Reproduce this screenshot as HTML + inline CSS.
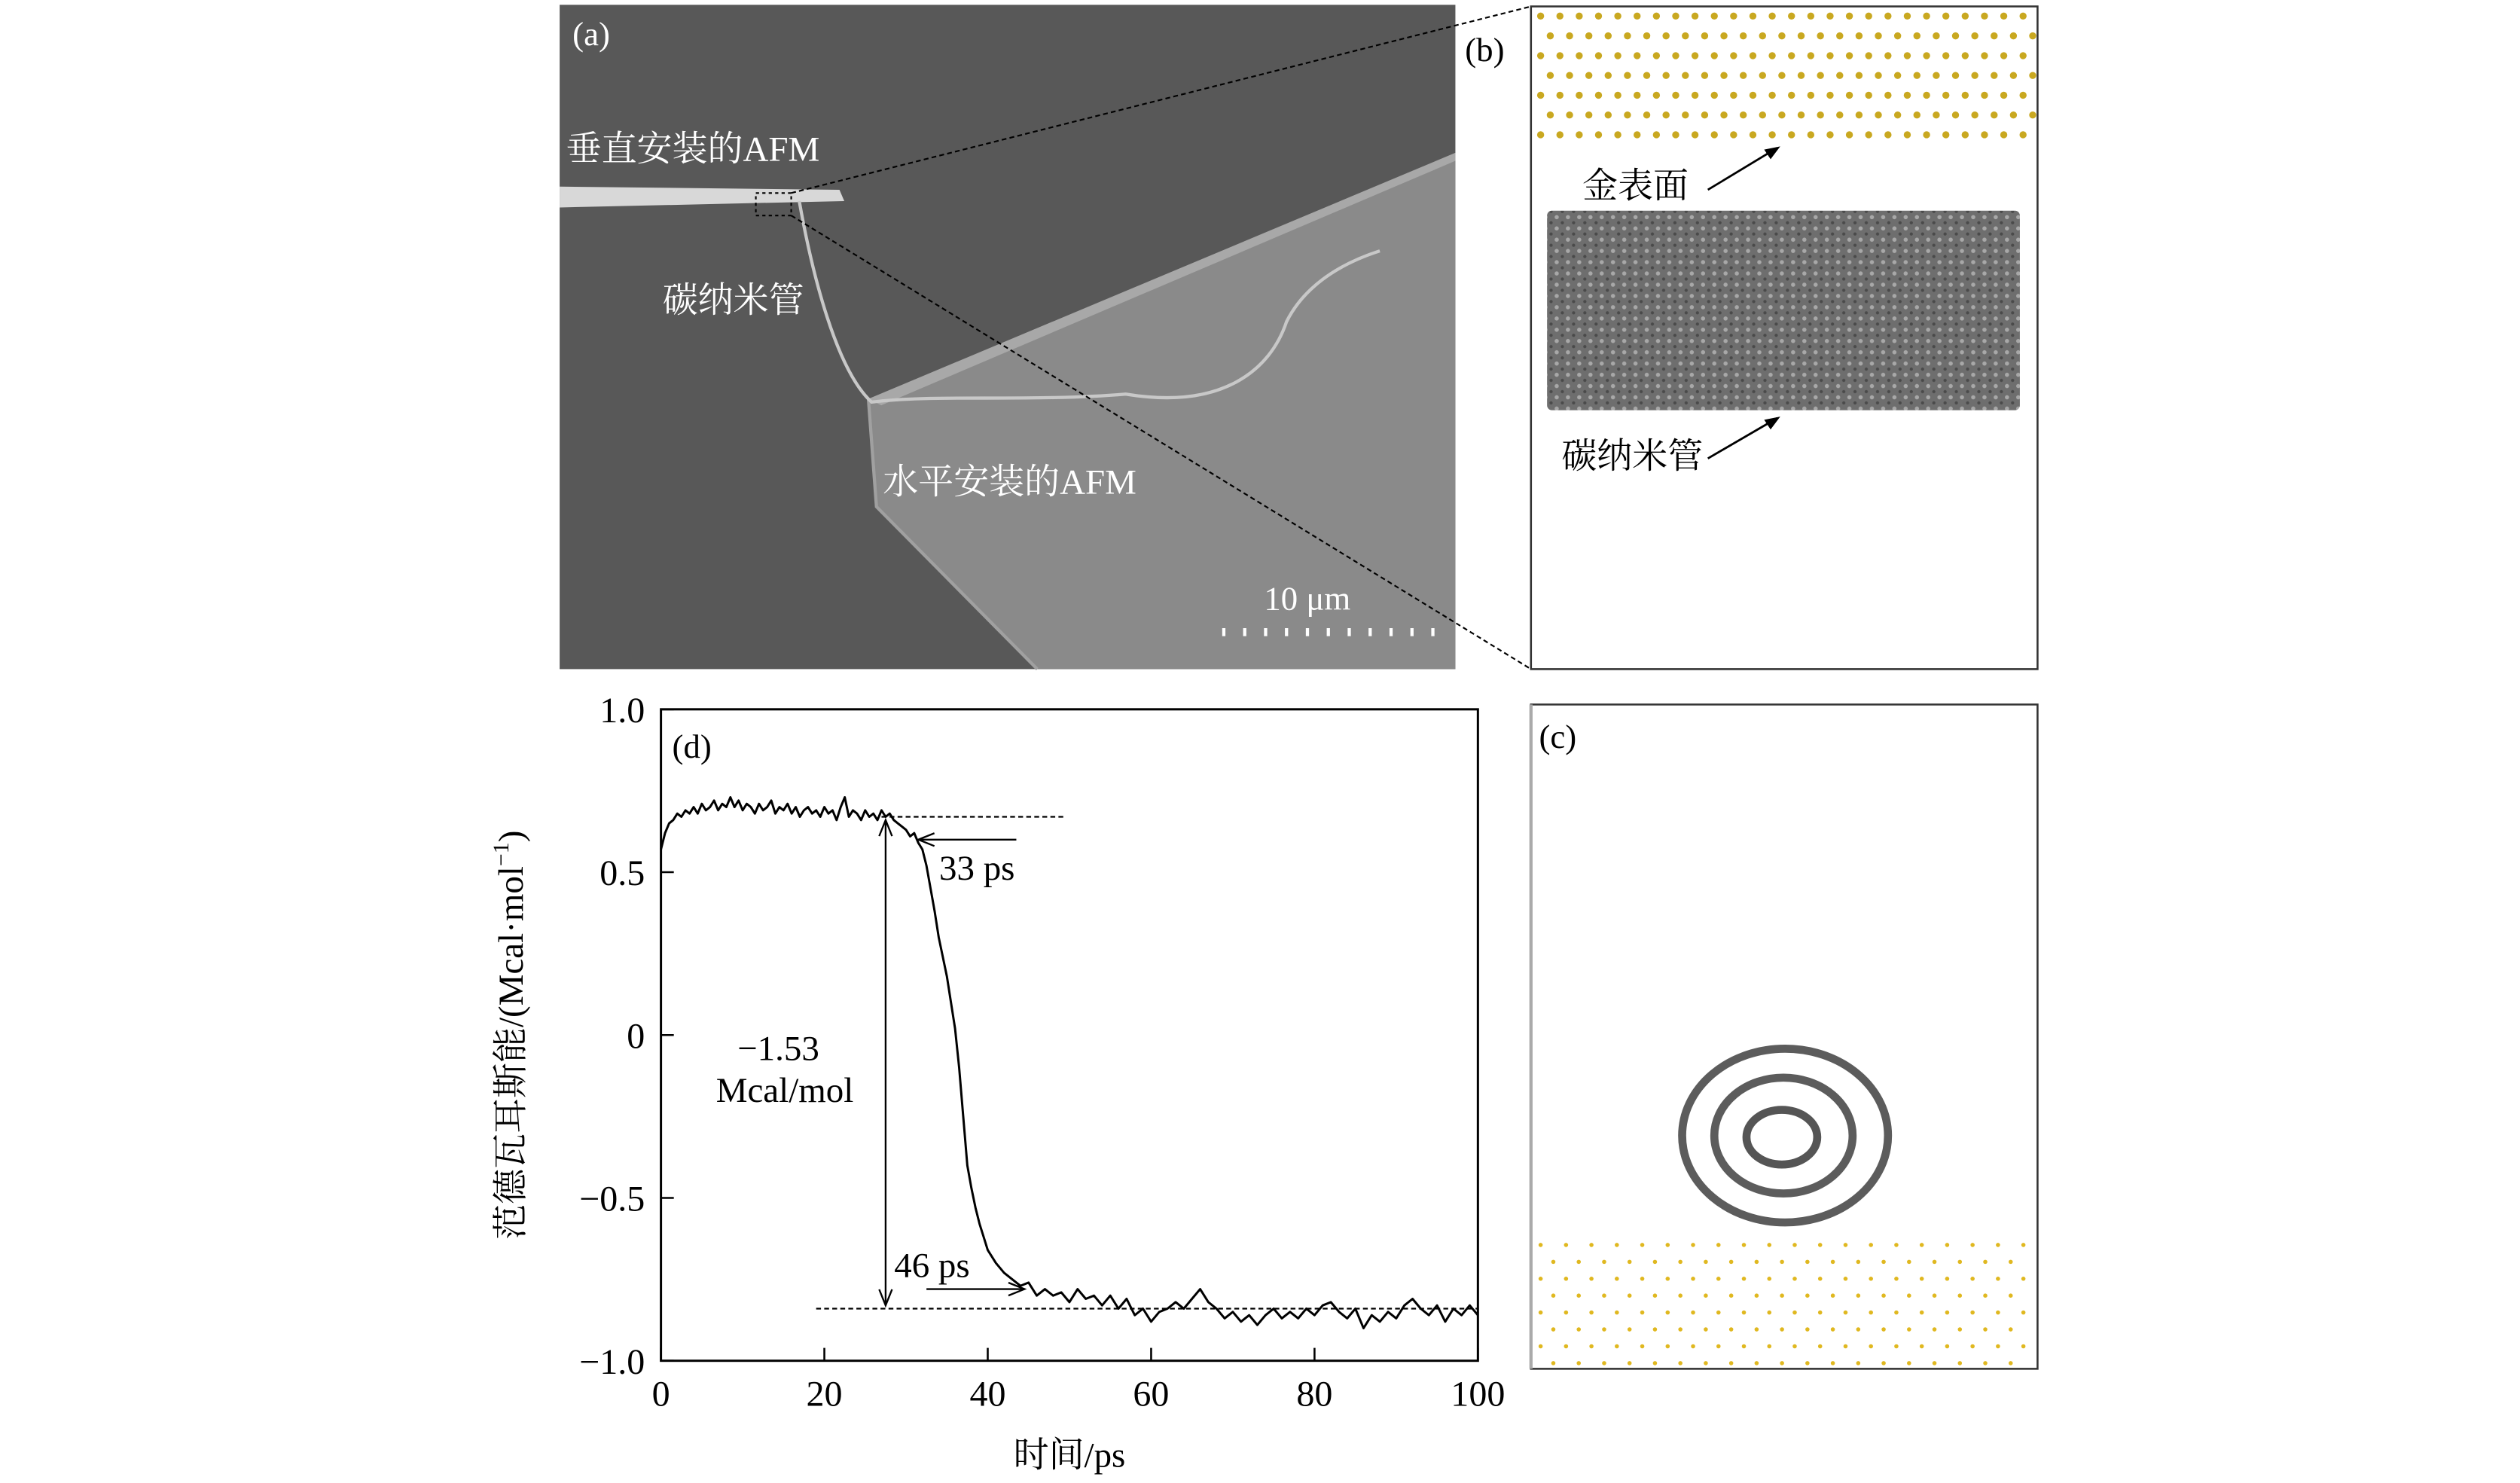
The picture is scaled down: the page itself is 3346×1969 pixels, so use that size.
<!DOCTYPE html>
<html><head><meta charset="utf-8"><style>
html,body{margin:0;padding:0;background:#fff}
svg{display:block}
text{font-family:"Liberation Serif","Noto Serif CJK SC",serif}
</style></head><body>
<svg id="fig" width="3346" height="1969" viewBox="0 0 1567 922" preserveAspectRatio="none" xmlns="http://www.w3.org/2000/svg">
<defs>
<pattern id="tubeTex" width="7" height="7" patternUnits="userSpaceOnUse">
<rect width="7" height="7" fill="#6e6e6e"/><circle cx="2" cy="2" r="1.3" fill="#a8a8a8"/><circle cx="5.5" cy="5.5" r="1" fill="#4a4a4a"/>
</pattern>
</defs>
<g>
<rect x="348" y="3" width="557" height="413" fill="#585858"/>
<polygon points="540,248 905,95 905,416 645,416 545,315" fill="#8a8a8a"/>
<polygon points="540,248 905,95 905,100 548,252" fill="#a8a8a8"/>
<polyline points="540,248 545,315 645,416" fill="none" stroke="#a0a0a0" stroke-width="2"/>
<polygon points="348,116 522,118 525,125 348,129" fill="#d8d8d8"/>
<path d="M497,125 C505,170 520,230 542,250 C580,245 640,250 700,245 C760,255 790,230 800,200 C810,180 830,165 858,156" fill="none" stroke="#c8c8c8" stroke-width="2"/>
<rect x="470" y="120" width="22" height="14" fill="none" stroke="#000" stroke-width="1" stroke-dasharray="2,2"/>
<text x="356" y="28" font-size="21" fill="#fff">(a)</text>
<text x="352" y="100" font-size="22" fill="#fff">垂直安装的AFM</text>
<text x="412" y="194" font-size="22" fill="#fff">碳纳米管</text>
<text x="549" y="307" font-size="22" fill="#fff">水平安装的AFM</text>
<text x="786" y="379" font-size="21" fill="#fff">10 μm</text>
<line x1="760" y1="393" x2="893" y2="393" stroke="#fff" stroke-width="5" stroke-dasharray="2,11"/>
</g>
<line x1="492" y1="120" x2="952" y2="4" stroke="#000" stroke-width="1" stroke-dasharray="3,2"/>
<line x1="492" y1="134" x2="952" y2="416" stroke="#000" stroke-width="1" stroke-dasharray="3,2"/>
<g>
<rect x="952" y="4" width="315" height="412" fill="#fff" stroke="#333" stroke-width="1.2"/>
<g id="bdots"></g>
<rect x="962" y="131" width="294" height="124" fill="url(#tubeTex)" rx="3"/>
<text x="911" y="38" font-size="21">(b)</text>
<text x="984" y="123" font-size="22">金表面</text>
<line x1="1062" y1="118" x2="1105" y2="92" stroke="#000" stroke-width="1.3"/>
<polygon points="1107,91 1097,93 1101,99" fill="#000"/>
<text x="971" y="291" font-size="22">碳纳米管</text>
<line x1="1062" y1="285" x2="1105" y2="260" stroke="#000" stroke-width="1.3"/>
<polygon points="1107,259 1097,261 1101,267" fill="#000"/>
</g>
<g>
<rect x="952" y="438" width="315" height="413" fill="#fff" stroke="#333" stroke-width="1.2"/>
<line x1="952" y1="438" x2="952" y2="851" stroke="#aaa" stroke-width="2"/>
<g id="cdots"></g>
<text x="957" y="465" font-size="21">(c)</text>
<ellipse cx="1110" cy="706" rx="64" ry="54" fill="none" stroke="#5c5c5c" stroke-width="5"/>
<ellipse cx="1109" cy="706" rx="43" ry="36" fill="none" stroke="#5c5c5c" stroke-width="5"/>
<ellipse cx="1108" cy="707" rx="22" ry="17" fill="none" stroke="#555" stroke-width="5"/>
</g>
<g id="chart"></g>
</svg>
<script>
const times=[0,0.5,1,1.5,2,2.5,3,3.5,4,4.5,5,5.5,6,6.5,7,7.5,8,8.5,9,9.5,10,10.5,11,11.5,12,12.5,13,13.5,14,14.5,15,15.5,16,16.5,17,17.5,18,18.5,19,19.5,20,20.5,21,21.5,22,22.5,23,23.5,24,24.5,25,25.5,26,26.5,27,27.5,28,28.5,29,29.5,30,30.5,31,31.5,32,32.5,33,33.5,34,34.5,35,35.5,36,36.5,37,37.5,38,38.5,39,39.5,40,40.5,41,42,43,44,45,46,47,48,49,50,51,52,53,54,55,56,57,58,59,60,61,62,63,64,65,66,67,68,69,70,71,72,73,74,75,76,77,78,79,80,81,82,83,84,85,86,87,88,89,90,91,92,93,94,95,96,97,98,99,100];
const energies=[0.57,0.62,0.65,0.66,0.68,0.67,0.69,0.68,0.70,0.68,0.71,0.69,0.70,0.72,0.69,0.71,0.70,0.73,0.70,0.72,0.69,0.71,0.70,0.68,0.71,0.69,0.70,0.72,0.68,0.70,0.69,0.71,0.68,0.70,0.67,0.69,0.70,0.68,0.69,0.67,0.70,0.68,0.69,0.66,0.70,0.73,0.67,0.69,0.68,0.66,0.69,0.67,0.68,0.66,0.69,0.67,0.68,0.66,0.65,0.64,0.63,0.61,0.62,0.59,0.57,0.52,0.45,0.38,0.30,0.24,0.18,0.10,0.02,-0.10,-0.25,-0.40,-0.47,-0.53,-0.58,-0.62,-0.66,-0.68,-0.70,-0.73,-0.75,-0.77,-0.76,-0.80,-0.78,-0.80,-0.79,-0.82,-0.78,-0.81,-0.80,-0.83,-0.80,-0.84,-0.81,-0.86,-0.84,-0.88,-0.85,-0.84,-0.82,-0.84,-0.81,-0.78,-0.82,-0.84,-0.87,-0.85,-0.88,-0.86,-0.89,-0.86,-0.84,-0.87,-0.85,-0.87,-0.84,-0.86,-0.83,-0.82,-0.85,-0.87,-0.84,-0.90,-0.86,-0.88,-0.85,-0.87,-0.83,-0.81,-0.84,-0.86,-0.83,-0.88,-0.84,-0.86,-0.83,-0.86];
const xTicks=[0,20,40,60,80,100];
const yTicks=[1.0,0.5,0,-0.5,-1.0];
const yTickLabels=["1.0","0.5","0","\u22120.5","\u22121.0"];
const upperLevel=[0.67];
const lowerLevel=[-0.84];

const NS="http://www.w3.org/2000/svg";
const L=411,R=919,T=441,B=846;
function xs(v){return L+(v-0)/(100-0)*(R-L);}
function ys(v){return B-(v-(-1))/(1-(-1))*(B-T);}
function mk(tag,attrs,parent){const e=document.createElementNS(NS,tag);for(const k in attrs)e.setAttribute(k,attrs[k]);parent.appendChild(e);return e;}
const g=document.getElementById('chart');

const bd=document.getElementById('bdots');
for(let r=0;r<7;r++){for(let c=0;c<26;c++){const x=958+c*12+(r%2?6:0);if(x>1264)continue;mk('circle',{cx:x,cy:10+r*12.3,r:2.2,fill:'#c9a820'},bd);}}
const cd=document.getElementById('cdots');
for(let r=0;r<8;r++){for(let c=0;c<21;c++){const x=958+c*15.8+(r%2?7.9:0);if(x>1264)continue;mk('circle',{cx:x,cy:774+r*10.5,r:1.3,fill:'#e0b820'},cd);}}

const frame=mk('rect',{x:L,y:T,width:R-L,height:B-T,fill:'none',stroke:'#000','stroke-width':1.4},g);



xTicks.forEach(v=>{
  const t=mk('line',{x1:xs(v),y1:B,x2:xs(v),y2:B-8,stroke:'#000','stroke-width':1.2},g);
  
  
  const lb=mk('text',{x:xs(v),y:B+28,'font-size':22.5,'text-anchor':'middle'},g);
  lb.textContent=String(v);
  
  
});
yTicks.forEach((v,i)=>{
  const t=mk('line',{x1:L,y1:ys(v),x2:L+8,y2:ys(v),stroke:'#000','stroke-width':1.2},g);
  
  
  const lb=mk('text',{x:L-10,y:ys(v)+8,'font-size':22.5,'text-anchor':'end'},g);
  lb.textContent=yTickLabels[i];
  
  
});
const xt=mk('text',{x:(L+R)/2,y:912,'font-size':22,'text-anchor':'middle'},g);
xt.textContent='时间/ps';


const yt=mk('text',{x:0,y:0,'font-size':22,'text-anchor':'middle',transform:'translate(325,'+((T+B)/2)+') rotate(-90)'},g);
yt.innerHTML='范德瓦耳斯能/(Mcal·mol<tspan font-size="14" dy="-9">−1</tspan><tspan dy="9">)</tspan>';


const pl=mk('text',{x:418,y:471,'font-size':21},g);
pl.textContent='(d)';



let d='';
times.forEach((t,i)=>{d+=(i?'L':'M')+xs(t).toFixed(2)+','+ys(energies[i]).toFixed(2);});
const line=mk('path',{d:d,fill:'none',stroke:'#000','stroke-width':1.4,'stroke-linejoin':'round'},g);



const du=mk('line',{x1:xs(27),y1:ys(upperLevel[0]),x2:xs(49.5),y2:ys(upperLevel[0]),stroke:'#000','stroke-width':1,'stroke-dasharray':'3,2'},g);


const dl=mk('line',{x1:xs(19),y1:ys(lowerLevel[0]),x2:xs(100),y2:ys(lowerLevel[0]),stroke:'#000','stroke-width':1,'stroke-dasharray':'3,2'},g);


const va=mk('line',{x1:xs(27.5),y1:ys(upperLevel[0])+2,x2:xs(27.5),y2:ys(lowerLevel[0])-2,stroke:'#000','stroke-width':1.1},g);


function head(x,y,dx,dy){const p=mk('path',{d:`M${x-dy*4-dx*10},${y-dx*4-dy*10} L${x},${y} L${x+dy*4-dx*10},${y+dx*4-dy*10}`,fill:'none',stroke:'#000','stroke-width':1.1},g);}
head(xs(27.5),ys(upperLevel[0])+2,0,-1);
head(xs(27.5),ys(lowerLevel[0])-2,0,1);
const a1=mk('line',{x1:xs(43.5),y1:ys(0.60),x2:xs(31.5),y2:ys(0.60),stroke:'#000','stroke-width':1.1},g);


head(xs(31.5),ys(0.60),-1,0);
const a2=mk('line',{x1:xs(32.5),y1:ys(-0.78),x2:xs(44.5),y2:ys(-0.78),stroke:'#000','stroke-width':1.1},g);


head(xs(44.5),ys(-0.78),1,0);
function txt(s,x,y,name,anchor){const e=mk('text',{x:x,y:y,'font-size':22,'text-anchor':anchor||'start'},g);e.textContent=s;}
txt('33 ps',584,547,'label-33ps');
txt('46 ps',556,794,'label-46ps');
txt('\u22121.53',484,659,'label-energy-diff','middle');
txt('Mcal/mol',488,685,'label-energy-unit','middle');
</script>
</body></html>
